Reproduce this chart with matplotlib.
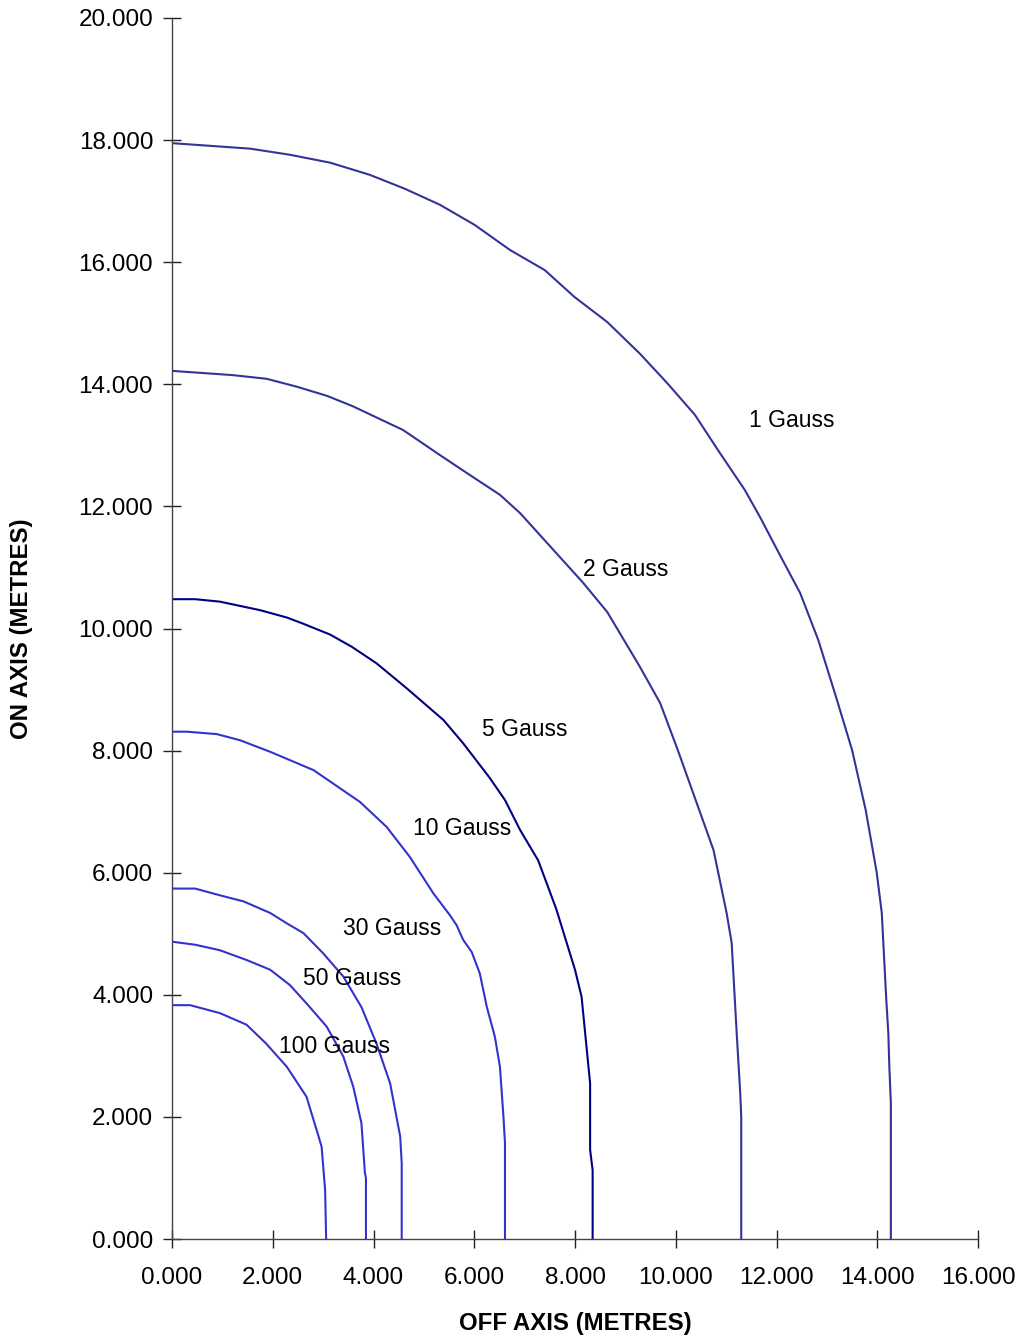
import matplotlib
matplotlib.use("Agg")
import matplotlib.pyplot as plt
from matplotlib.ticker import FormatStrFormatter, MultipleLocator

plt.rcParams['font.family'] = ['Liberation Sans', 'DejaVu Sans']

# ---- data (off axis x, on axis y), metres ----
g1_x = [0, 1.55, 2.34, 3.14, 3.93, 4.63, 5.32, 6.01, 6.71, 7.40, 7.99, 8.64, 9.29, 9.83,
        10.38, 10.84, 11.37, 11.67, 12.07, 12.47, 12.83, 13.2, 13.5, 13.77, 13.99, 14.09,
        14.18, 14.22, 14.24, 14.27, 14.27]
g1_y = [17.95, 17.86, 17.76, 17.63, 17.43, 17.2, 16.94, 16.61, 16.2, 15.87, 15.43, 15.02,
        14.5, 14.02, 13.5, 12.92, 12.27, 11.83, 11.2, 10.58, 9.81, 8.83, 8.01, 7.03, 6.0,
        5.34, 3.91, 3.37, 2.82, 2.23, 0]

g2_x = [0, 1.21, 1.88, 2.48, 3.08, 3.59, 4.59, 5.32, 5.92, 6.51, 6.91, 8.16, 8.64, 9.29,
        9.69, 10.04, 10.75, 11.01, 11.11, 11.21, 11.28, 11.30, 11.30]
g2_y = [14.22, 14.15, 14.09, 13.96, 13.81, 13.64, 13.25, 12.84, 12.51, 12.19, 11.89, 10.75,
        10.27, 9.37, 8.78, 8.01, 6.37, 5.34, 4.85, 3.37, 2.39, 2.0, 0]

g5_x = [0, 0.46, 0.95, 1.75, 2.28, 2.6, 3.14, 3.57, 4.06, 4.66, 5.39, 5.78, 6.31, 6.61,
        6.91, 7.27, 7.63, 8.0, 8.13, 8.3, 8.3, 8.35, 8.35]
g5_y = [10.48, 10.48, 10.44, 10.30, 10.18, 10.08, 9.9, 9.7, 9.43, 9.02, 8.5, 8.12, 7.55,
        7.19, 6.7, 6.2, 5.4, 4.41, 3.97, 2.55, 1.46, 1.13, 0]

g10_x = [0, 0.29, 0.89, 1.35, 1.95, 2.81, 3.73, 4.26, 4.72, 5.19, 5.52, 5.65, 5.78, 5.95,
         6.11, 6.25, 6.41, 6.51, 6.58, 6.61, 6.61]
g10_y = [8.31, 8.31, 8.27, 8.17, 7.98, 7.68, 7.16, 6.75, 6.26, 5.66, 5.3, 5.14, 4.9, 4.7,
         4.35, 3.8, 3.31, 2.82, 2.0, 1.57, 0]

g30_x = [0, 0.46, 0.95, 1.42, 1.95, 2.28, 2.61, 3.0, 3.4, 3.76, 4.06, 4.33, 4.53, 4.56, 4.56]
g30_y = [5.74, 5.74, 5.63, 5.53, 5.34, 5.17, 5.01, 4.68, 4.30, 3.8, 3.2, 2.55, 1.68, 1.24, 0]

g50_x = [0, 0.46, 0.95, 1.48, 1.95, 2.34, 2.67, 3.07, 3.4, 3.6, 3.76, 3.83, 3.85, 3.85]
g50_y = [4.87, 4.82, 4.73, 4.57, 4.41, 4.16, 3.86, 3.48, 2.99, 2.49, 1.9, 1.08, 1.0, 0]

g100_x = [0, 0.36, 0.95, 1.48, 1.87, 2.28, 2.67, 2.81, 2.91, 2.97, 3.04, 3.06]
g100_y = [3.83, 3.83, 3.7, 3.51, 3.2, 2.82, 2.33, 1.95, 1.68, 1.51, 0.8, 0]

labels = ["1 Gauss", "2 Gauss", "5 Gauss", "10 Gauss", "30 Gauss", "50 Gauss", "100 Gauss"]
label_x = [12.3, 9.01, 7.01, 5.76, 4.37, 3.57, 3.22]
label_y = [13.4, 10.97, 8.34, 6.72, 5.09, 4.26, 3.16]

series = [(g1_x, g1_y), (g2_x, g2_y), (g5_x, g5_y), (g10_x, g10_y),
          (g30_x, g30_y), (g50_x, g50_y), (g100_x, g100_y)]
colors = ["#333399", "#333399", "#000080", "#3333CC", "#3333CC", "#3333CC", "#3333CC"]

fig = plt.figure(figsize=(10.22, 13.38), dpi=100)
ax = fig.add_axes([172/1022, 1 - 1239/1338, (978-172)/1022, (1239-18)/1338])

for (xs, ys), c in zip(series, colors):
    ax.plot(xs, ys, color=c, lw=1.5, solid_joinstyle='round')

for t, x, y in zip(labels, label_x, label_y):
    ax.text(x, y, t, ha='center', va='center', fontsize=16.5, color='black')

ax.set_xlim(0, 16)
ax.set_ylim(0, 20)
ax.xaxis.set_major_locator(MultipleLocator(2))
ax.yaxis.set_major_locator(MultipleLocator(2))
ax.xaxis.set_major_formatter(FormatStrFormatter('%.3f'))
ax.yaxis.set_major_formatter(FormatStrFormatter('%.3f'))
ax.tick_params(axis='both', direction='inout', length=13, width=1, labelsize=17.5,
               color='#222222')
ax.tick_params(axis='x', pad=14)
ax.tick_params(axis='y', pad=7)
for s in ['top', 'right']:
    ax.spines[s].set_visible(False)
for s in ['left', 'bottom']:
    ax.spines[s].set_color('#444444')
    ax.spines[s].set_linewidth(1)

ax.set_xlabel("OFF AXIS (METRES)", fontsize=17.3, fontweight='bold', labelpad=16)
ax.set_ylabel("ON AXIS (METRES)", fontsize=17.3, fontweight='bold', labelpad=33)

fig.savefig("out.png", dpi=100)
